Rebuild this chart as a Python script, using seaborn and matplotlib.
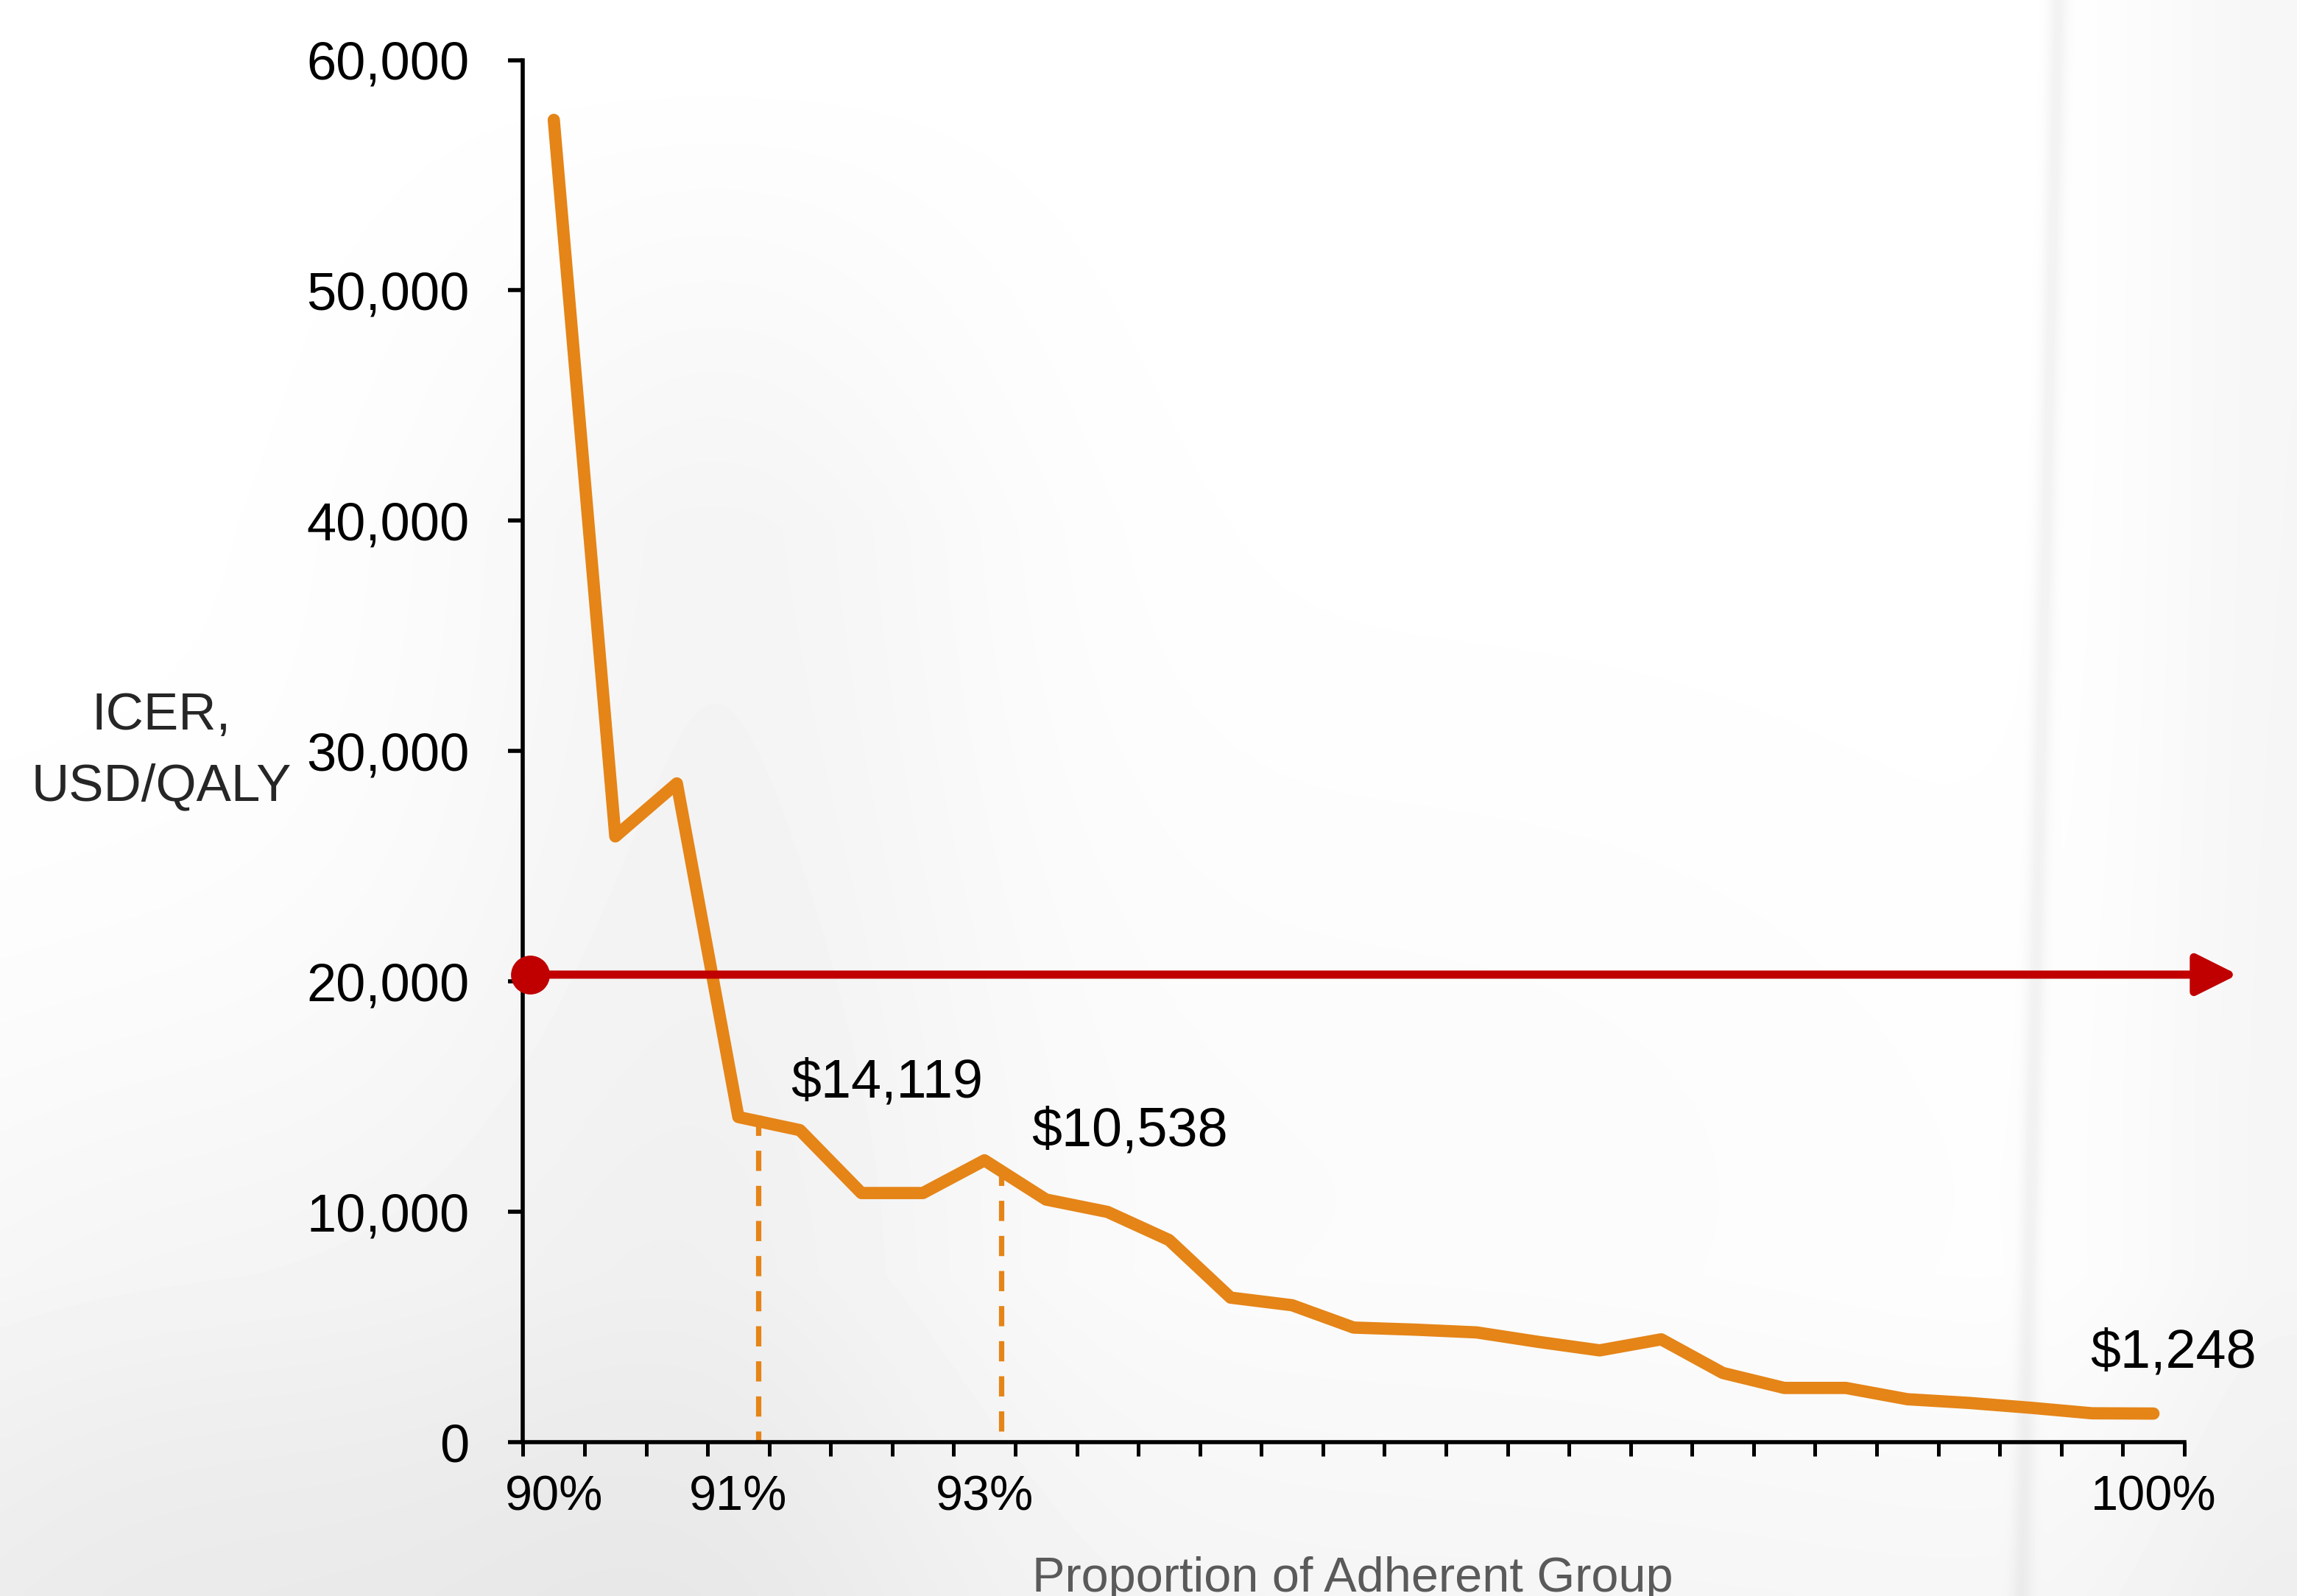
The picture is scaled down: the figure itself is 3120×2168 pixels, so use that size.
import numpy as np
import matplotlib
matplotlib.use('Agg')
import matplotlib.pyplot as plt
import seaborn as sns

# =============================================================================
# Data
# =============================================================================

# ICER (USD/QALY) for each step of the adherent-group proportion, 90% -> 100%
icer_values = [57400, 26300, 28600, 14119, 13550, 10820, 10820, 12240, 10538,
               10000, 8780, 6280, 5950, 4980, 4890, 4770, 4360, 3990, 4470,
               3010, 2360, 2360, 1870, 1710, 1500, 1260, 1248]
step_index = list(range(len(icer_values)))

# only a few steps carry a label on the x axis
label_steps = [0, 3, 7, 26]
label_texts = ['90%', '91%', '93%', '100%']

# willingness-to-pay threshold (red arrow)
threshold = 20300

# callouts
callout_texts = ['$14,119', '$10,538', '$1,248']
callout_x = [3.85, 7.76, 24.97]
callout_y = [14980, 12880, 3260]

# dashed drop lines
dropline_x = [3.33, 7.27]

y_ticks = [0, 10000, 20000, 30000, 40000, 50000, 60000]

# =============================================================================
# Style
# =============================================================================

sns.set_theme(style='ticks')
plt.rcParams['font.family'] = ['Liberation Sans', 'DejaVu Sans']

orange = '#E58417'
red = '#C00000'

fig = plt.figure(figsize=(15.6, 10.84), dpi=200)

# soft grey backdrop
bg_ax = fig.add_axes([0, 0, 1, 1], zorder=-10)
yy, xx = np.mgrid[0:1:300j, 0:1:450j]
shade = np.ones_like(xx)
shade -= 0.04 * np.exp(-((xx - 0.31) / 0.13) ** 2) * np.clip((yy - 0.03) / 0.3, 0, 1)
shade -= 0.05 * np.exp(-((xx - 0.08) / 0.22) ** 2 - ((yy - 0.95) / 0.3) ** 2)
shade -= 0.03 * np.clip((yy - 0.8) / 0.2, 0, 1)
shade -= 0.035 * np.exp(-((xx - 1.0) / 0.07) ** 2)
shade -= 0.05 * np.exp(-((xx - (0.897 - 0.016 * yy)) / 0.004) ** 2)
shade -= 0.015 * np.exp(-((xx - 0.6) / 0.3) ** 2 - ((yy - 0.75) / 0.3) ** 2)
bg_ax.imshow(shade, cmap='gray', vmin=0, vmax=1, extent=[0, 1, 0, 1],
             aspect='auto', interpolation='bicubic')
bg_ax.axis('off')

ax = fig.add_axes([0.2277, 0.0963, 0.7232, 0.8661])
ax.set_facecolor('none')

# =============================================================================
# Plot
# =============================================================================

sns.lineplot(x=step_index, y=icer_values, ax=ax, color=orange, lw=6,
             solid_capstyle='round', zorder=3)

# dashed drop lines, drawn from the curve down to the axis
for xd in dropline_x:
    top = np.interp(xd, step_index, icer_values) + 250
    ax.plot([xd, xd], [top, 0], color=orange, linewidth=2.6,
            linestyle=(0, (3.8, 2.8)), zorder=2)

# threshold arrow with a dot at its start
ax.annotate('', xy=(27.37, threshold), xytext=(-0.38, threshold),
            arrowprops=dict(arrowstyle='-|>,head_length=17,head_width=8.5',
                            mutation_scale=1, color=red, lw=4,
                            shrinkA=0, shrinkB=0),
            annotation_clip=False, zorder=4)
ax.plot(-0.38, threshold, 'o', color=red, markersize=18, clip_on=False, zorder=5)

for txt, xc, yc in zip(callout_texts, callout_x, callout_y):
    ax.text(xc, yc, txt, fontsize=26.5, color='black', ha='left', va='baseline')

# =============================================================================
# Axes
# =============================================================================

ax.set_xlim(-0.5, len(icer_values) - 0.5)
ax.set_ylim(0, 60000)
ax.set_yticks(y_ticks)
ax.set_yticklabels(['{:,}'.format(v) for v in y_ticks])
ax.set_xticks(label_steps)
ax.set_xticklabels(label_texts)
ax.set_xticks(np.arange(-0.5, len(icer_values)), minor=True)

ax.tick_params(axis='x', which='major', length=0, pad=16, labelsize=24, colors='black')
ax.tick_params(axis='x', which='minor', length=7, width=1.8, color='black', direction='out')
ax.tick_params(axis='y', which='major', length=7.3, width=2, pad=19, labelsize=26,
               colors='black')

for side in ['top', 'right']:
    ax.spines[side].set_visible(False)
for side in ['left', 'bottom']:
    ax.spines[side].set_color('black')
    ax.spines[side].set_linewidth(2)

ax.set_xlabel('')
ax.set_ylabel('')

fig.text(0.0702, 0.529, 'ICER,\nUSD/QALY', fontsize=25.5, ha='center', va='center',
         multialignment='center', linespacing=1.6)
fig.text(0.5889, 0.0028, 'Proportion of Adherent Group', fontsize=24,
         color='#5a5a5a', ha='center', va='baseline')

plt.savefig('out.png', dpi=200)
